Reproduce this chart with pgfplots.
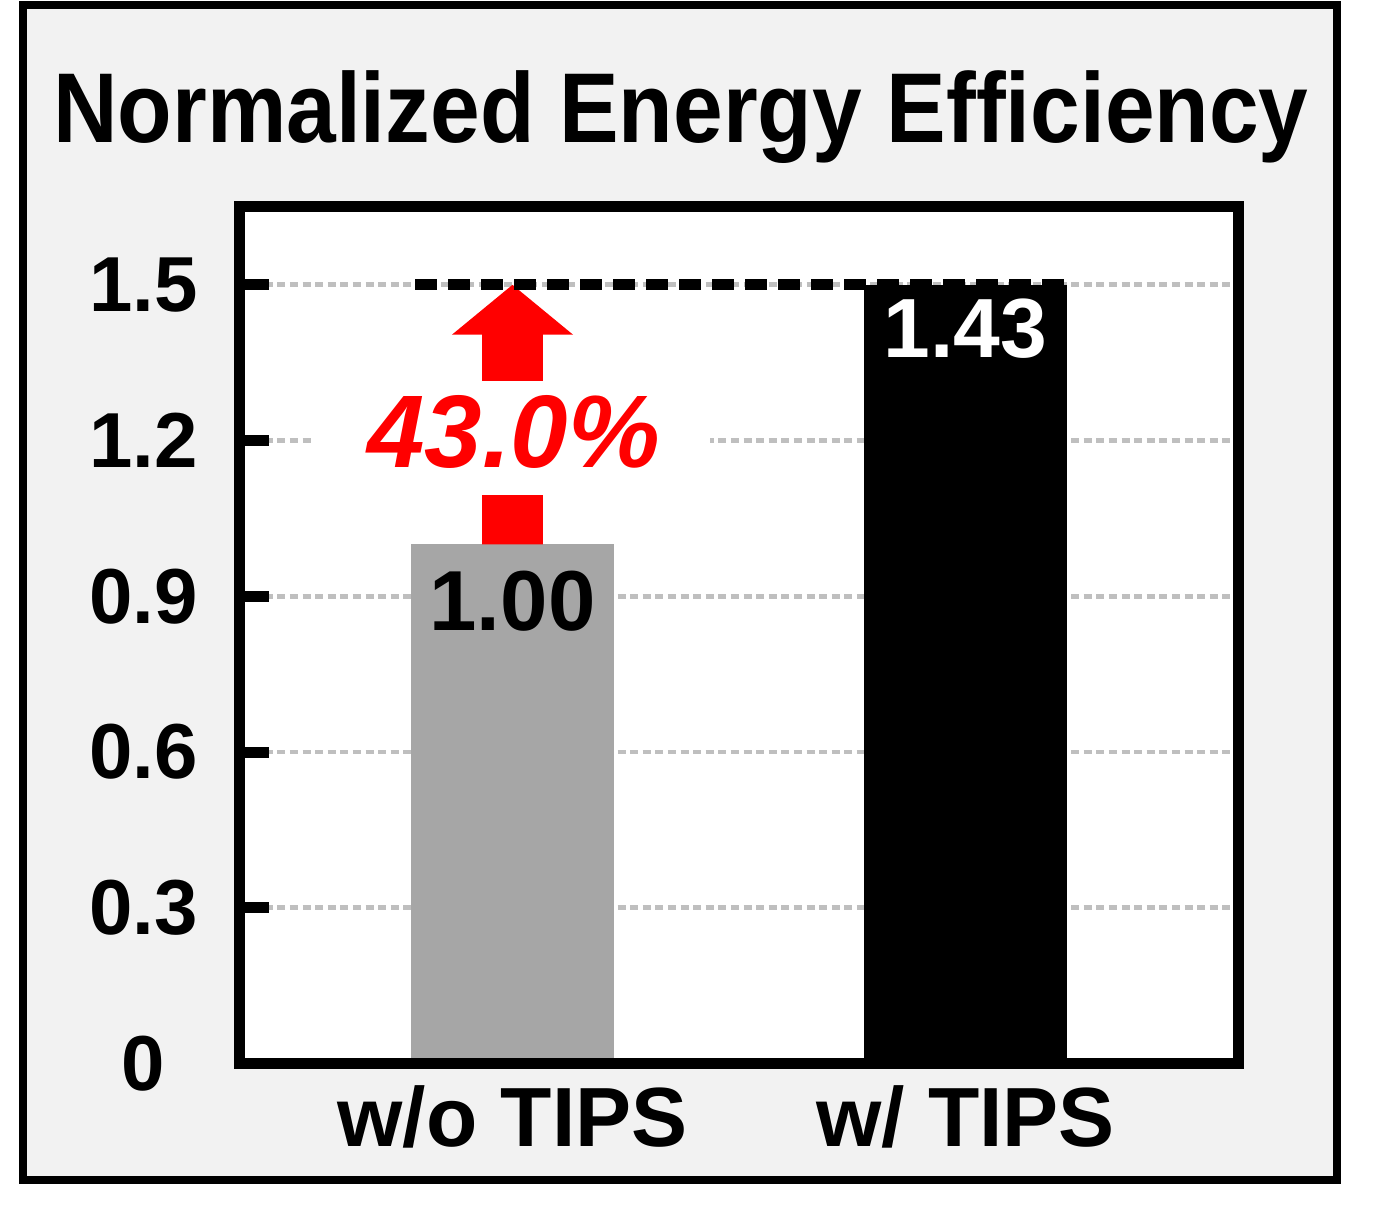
\documentclass[border=0pt]{standalone}
\usepackage{pgfplots}
\pgfplotsset{compat=1.18}
\usepackage{fontspec}
\setmainfont{Liberation Sans}
\usepackage{graphicx}
\definecolor{panelbg}{HTML}{F2F2F2}
\definecolor{barwo}{HTML}{A6A6A6}
\definecolor{gridgray}{HTML}{BFBFBF}

\begin{document}
\begin{tikzpicture}
% page and grey panel
\fill[white] (0,0) rectangle (345.25pt,301.5pt);
\draw[line width=2pt, fill=panelbg] (5.625pt,6.375pt) rectangle (334.25pt,300.125pt);
\node[anchor=base, inner sep=0pt, font=\fontsize{24.8}{24.8}\selectfont\bfseries]
  at (170.25pt,265.75pt) {\scalebox{0.90}[1]{Normalized Energy Efficiency}};

\begin{axis}[
  at={(59.875pt,35.625pt)}, anchor=south west,
  width=249.75pt, height=214.125pt, scale only axis,
  xmin=-0.6026, xmax=1.6026, ymin=0, ymax=1.65,
  clip=false,
  axis background/.style={fill=white},
  axis line style={line width=2.75pt},
  xtick={0,1}, xticklabels={w/o TIPS, w/ TIPS},
  xtick style={draw=none},
  ytick={0,0.3,0.6,0.9,1.2,1.5},
  ytick pos=left, tick align=inside, major tick length=7.4pt,
  ytick style={line width=2.75pt, black},
  ymajorgrids,
  grid style={gridgray, line width=1.2pt, dash pattern=on 2pt off 1.15pt},
  /pgf/number format/fixed, /pgf/number format/precision=1,
  /pgf/number format/assume math mode=true,
  yticklabel style={font=\fontsize{19.5}{19.5}\selectfont\bfseries,
    anchor=center, inner sep=0pt, xshift=-24pt},
  xticklabel style={font=\fontsize{21}{21}\selectfont\bfseries,
    inner sep=0pt, yshift=-5.4pt},
]
% w/o TIPS
\addplot[ybar, bar shift=0pt, bar width=0.448, fill=barwo, draw=none,
  nodes near coords, point meta=explicit symbolic,
  every node near coord/.append style={anchor=north, inner sep=0pt, yshift=-6.4pt,
    font=\fontsize{21.3}{21.3}\selectfont\bfseries, text=black}]
  coordinates {(0,1.0) [1.00]};
% w/ TIPS
\addplot[ybar, bar shift=0pt, bar width=0.448, fill=black, draw=none,
  nodes near coords, point meta=explicit symbolic,
  every node near coord/.append style={anchor=north, inner sep=0pt, yshift=-3.4pt,
    font=\fontsize{21}{21}\selectfont\bfseries, text=white}]
  coordinates {(1,1.5) [1.43]};

% red arrow from the grey bar to the dashed line
\fill[red] (axis cs:-0.0673,1.0) -- (axis cs:-0.0673,1.404) -- (axis cs:-0.1336,1.404)
  -- (axis cs:0,1.5) -- (axis cs:0.1336,1.404) -- (axis cs:0.0673,1.404)
  -- (axis cs:0.0673,1.0) -- cycle;
\fill[white] (axis cs:-0.436,1.095) rectangle (axis cs:0.436,1.315);
\node[text=red, inner sep=0pt, font=\fontsize{25.8}{25.8}\selectfont\bfseries\itshape]
  at (axis cs:0.003,1.2165) {43.0\%};

\addplot[black, line width=2.75pt, dash pattern=on 5.5pt off 2.75pt]
  coordinates {(-0.215,1.5) (1.224,1.5)};

% bottom axis line over the bars
\draw[line width=2.75pt, line cap=rect] (rel axis cs:0,0) -- (rel axis cs:1,0);
\end{axis}
\end{tikzpicture}
\end{document}
